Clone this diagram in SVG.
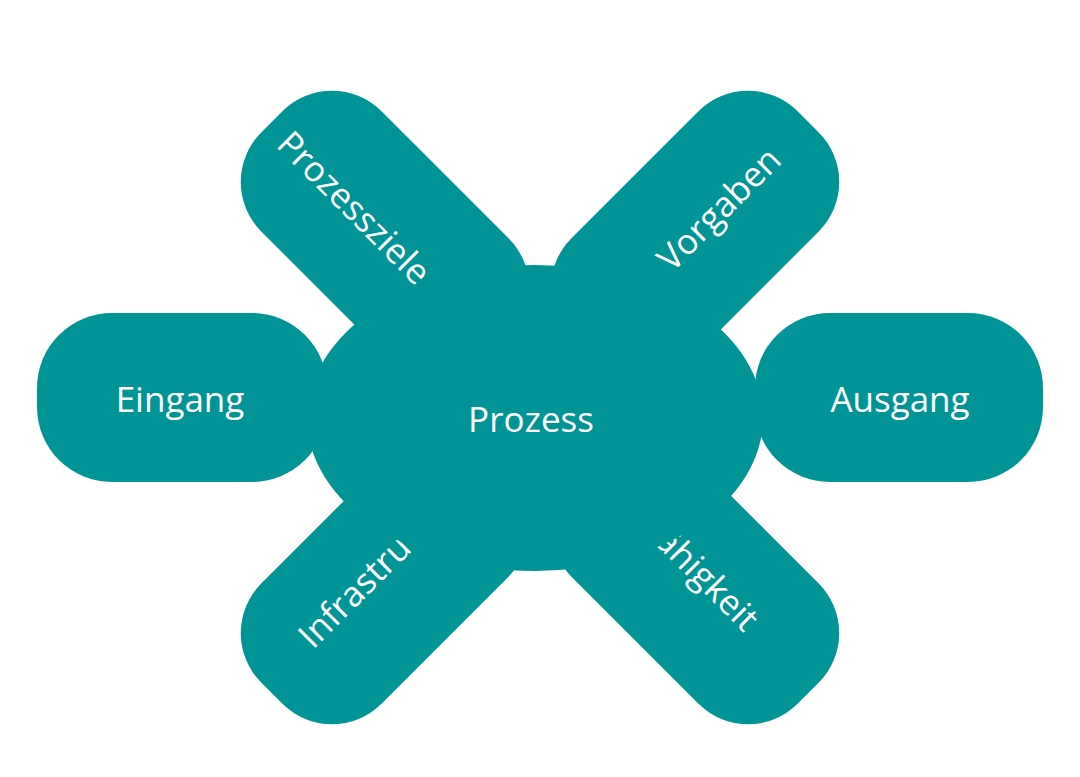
<svg xmlns="http://www.w3.org/2000/svg" width="1080" height="777" viewBox="0 0 1080 777">
<style>
.s{fill:#009496}
.t{fill:#fff;font-family:"Open Sans","DejaVu Sans",sans-serif;font-size:35px;text-anchor:middle;dominant-baseline:central}
</style>
<rect width="1080" height="777" fill="#fff"/>
<g id="arm-prozessziele"><rect class="s" x="-160" y="-85" width="320" height="170" rx="70" transform="translate(385,235) rotate(45)"/><text class="t" transform="translate(355,207) rotate(45)">Prozessziele</text></g>
<g id="arm-vorgaben"><rect class="s" x="-160" y="-85" width="320" height="170" rx="70" transform="translate(695,235) rotate(-45)"/><text class="t" transform="translate(718,208) rotate(-45)">Vorgaben</text></g>
<g id="arm-infrastruktur"><rect class="s" x="-160" y="-85" width="320" height="170" rx="70" transform="translate(385,580) rotate(-45)"/><text class="t" transform="translate(377,567) rotate(-45)">Infrastruktur</text></g>
<g id="arm-faehigkeit"><rect class="s" x="-160" y="-85" width="320" height="170" rx="70" transform="translate(695,580) rotate(45)"/><text class="t" transform="translate(702,572) rotate(45)">Fähigkeit</text></g>
<g id="eingang"><rect class="s" x="37" y="313" width="290" height="169" rx="75"/><text class="t" x="180" y="398">Eingang</text></g>
<g id="ausgang"><rect class="s" x="755" y="313" width="288" height="169" rx="75"/><text class="t" x="900" y="398">Ausgang</text></g>
<g id="prozess"><ellipse class="s" cx="535" cy="418" rx="228" ry="153"/><text class="t" x="531" y="418">Prozess</text></g>
<g id="connectors"></g>
</svg>
